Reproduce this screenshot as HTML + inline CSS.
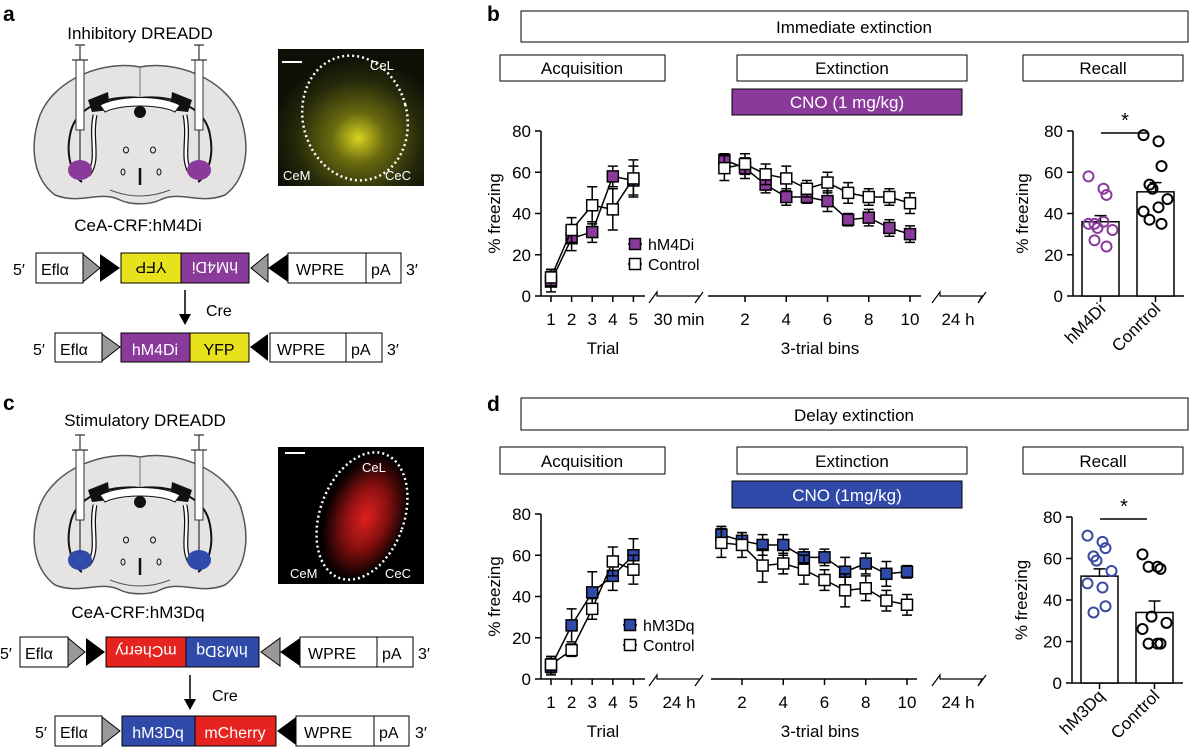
<!DOCTYPE html>
<html><head><meta charset="utf-8"><style>
html,body{margin:0;padding:0;background:#fff}
svg{display:block;font-family:"Liberation Sans",Arial,sans-serif}
</style></head><body>
<svg id="fig" width="1200" height="755" viewBox="0 0 1200 755" xmlns="http://www.w3.org/2000/svg">
<defs>
<radialGradient id="yg" cx="0.55" cy="0.65" r="0.6"><stop offset="0" stop-color="#d8d420"/><stop offset="0.3" stop-color="#6a6a10"/><stop offset="0.7" stop-color="#262a0a"/><stop offset="1" stop-color="#0c1006"/></radialGradient>
<radialGradient id="rg" cx="0.55" cy="0.5" r="0.5"><stop offset="0" stop-color="#e02020"/><stop offset="0.5" stop-color="#8a1010"/><stop offset="1" stop-color="#050000"/></radialGradient>
<g id="brain">
<path d="M140,67 C175,60 225,78 240,115 C252,150 245,180 225,195 C200,205 180,190 160,200 C150,205 130,205 120,200 C100,190 80,205 55,195 C35,180 28,150 40,115 C55,78 105,60 140,67Z" fill="#e6e3e3" stroke="#555" stroke-width="1.5"/>
<path d="M140,68 L140,105" stroke="#777" stroke-width="1"/>
<path d="M70,135 C75,105 110,95 140,98 C170,95 205,105 210,135 C215,160 205,178 198,182" fill="none" stroke="#111" stroke-width="2"/>
<path d="M70,135 C65,160 75,178 82,182" fill="none" stroke="#111" stroke-width="2"/>
<path d="M88,100 L108,92 L110,110 L92,112Z M172,92 L192,100 L188,112 L170,110Z" fill="#111"/>
<path d="M100,105 C120,95 160,95 180,105 L175,112 C160,104 120,104 105,112Z" fill="#fff" stroke="#111"/>
<circle cx="140" cy="112" r="6" fill="#111"/>
<path d="M95,115 C90,140 100,160 88,175 M185,115 C190,140 180,160 192,175" fill="none" stroke="#111" stroke-width="5"/>
<path d="M95,115 C90,140 100,160 88,175 M185,115 C190,140 180,160 192,175" fill="none" stroke="#fff" stroke-width="2.5"/>
<ellipse cx="126" cy="150" rx="2.5" ry="3" fill="none" stroke="#111"/><ellipse cx="153" cy="150" rx="2.5" ry="3" fill="none" stroke="#111"/>
<ellipse cx="123" cy="172" rx="2" ry="3" fill="none" stroke="#111"/><ellipse cx="159" cy="172" rx="2" ry="3" fill="none" stroke="#111"/>
<path d="M140,168 L140,185" stroke="#111" stroke-width="2.5"/>
<path d="M110,190 C130,198 150,198 170,190" fill="none" stroke="#555"/>
<rect x="76" y="60" width="8" height="70" fill="#fff" stroke="#333"/><path d="M80,45 L80,60 M72,60 L88,60 M75,45 L85,45 M80,130 L80,168" stroke="#333" stroke-width="1.2"/>
<rect x="195" y="60" width="8" height="70" fill="#fff" stroke="#333"/><path d="M199,45 L199,60 M191,60 L207,60 M194,45 L204,45 M199,130 L199,168" stroke="#333" stroke-width="1.2"/>
</g>
</defs>

<!-- Panel a -->
<text x="3" y="21" font-size="21" font-weight="bold">a</text>
<text x="140" y="39" font-size="17" text-anchor="middle">Inhibitory DREADD</text>
<g><use href="#brain"/>
<ellipse cx="80" cy="170" rx="12" ry="10" fill="#8a3a9a"/><ellipse cx="199" cy="170" rx="12" ry="10" fill="#8a3a9a"/></g>
<g>
<rect x="278" y="49" width="146" height="137" fill="url(#yg)"/>
<ellipse cx="355" cy="118" rx="52" ry="63" transform="rotate(-15 355 118)" fill="none" stroke="#fff" stroke-width="2.5" stroke-dasharray="2 3"/>
<line x1="282" y1="62" x2="302" y2="62" stroke="#fff" stroke-width="2"/>
<text x="370" y="70" fill="#fff" font-size="13">CeL</text><text x="283" y="180" fill="#fff" font-size="13">CeM</text><text x="385" y="180" fill="#fff" font-size="13">CeC</text></g>
<text x="138" y="231" font-size="17" text-anchor="middle">CeA-CRF:hM4Di</text>

<g font-size="16">
<text x="13" y="275">5′</text>
<rect x="36" y="253" width="47" height="30" fill="#fff" stroke="#000"/><text x="41" y="275">Eflα</text>
<path d="M83,254 L100,268 L83,282Z" fill="#999" stroke="#000"/><path d="M100,254 L120,268 L100,282Z" fill="#000"/>
<rect x="121" y="253" width="60" height="30" fill="#e8e21c" stroke="#000"/><text x="151" y="274" transform="rotate(180 151 268)" text-anchor="middle">YFP</text>
<rect x="181" y="253" width="68" height="30" fill="#8a3a9a" stroke="#000"/><text x="215" y="274" fill="#fff" transform="rotate(180 215 268)" text-anchor="middle">hM4Di</text>
<path d="M268,254 L251,268 L268,282Z" fill="#999" stroke="#000"/><path d="M288,254 L268,268 L288,282Z" fill="#000"/>
<rect x="288" y="253" width="78" height="30" fill="#fff" stroke="#000"/><text x="296" y="275">WPRE</text>
<rect x="366" y="253" width="35" height="30" fill="#fff" stroke="#000"/><text x="371" y="275">pA</text>
<text x="406" y="275">3′</text></g>
<g><line x1="185" y1="290" x2="185" y2="316" stroke="#000" stroke-width="1.5"/><path d="M179,314 L191,314 L185,325Z"/><text x="206" y="316" font-size="16">Cre</text></g>
<g font-size="16">
<text x="33" y="355">5′</text>
<rect x="55" y="333" width="47" height="29" fill="#fff" stroke="#000"/><text x="60" y="355">Eflα</text>
<path d="M102,334 L120,347 L102,361Z" fill="#999" stroke="#000"/>
<rect x="121" y="333" width="69" height="29" fill="#8a3a9a" stroke="#000"/><text x="155" y="355" fill="#fff" text-anchor="middle">hM4Di</text>
<rect x="190" y="333" width="59" height="29" fill="#e8e21c" stroke="#000"/><text x="219" y="355" text-anchor="middle">YFP</text>
<path d="M268,334 L250,347 L268,361Z" fill="#000"/>
<rect x="270" y="333" width="76" height="29" fill="#fff" stroke="#000"/><text x="277" y="355">WPRE</text>
<rect x="346" y="333" width="36" height="29" fill="#fff" stroke="#000"/><text x="351" y="355">pA</text>
<text x="387" y="355">3′</text></g>

<!-- Panel c -->
<text x="3" y="410" font-size="21" font-weight="bold">c</text>
<text x="145" y="426" font-size="17" text-anchor="middle">Stimulatory DREADD</text>
<g transform="translate(0,390)"><use href="#brain"/>
<ellipse cx="80" cy="170" rx="12" ry="10" fill="#2f4aa8"/><ellipse cx="199" cy="170" rx="12" ry="10" fill="#2f4aa8"/></g>
<g>
<rect x="278" y="447" width="146" height="137" fill="#000"/>
<ellipse cx="362" cy="516" rx="40" ry="64" transform="rotate(20 362 516)" fill="url(#rg)"/>
<ellipse cx="362" cy="516" rx="42" ry="66" transform="rotate(20 362 516)" fill="none" stroke="#fff" stroke-width="2.5" stroke-dasharray="2 3"/>
<line x1="285" y1="453" x2="305" y2="453" stroke="#fff" stroke-width="2"/>
<text x="362" y="472" fill="#fff" font-size="13">CeL</text><text x="290" y="578" fill="#fff" font-size="13">CeM</text><text x="385" y="578" fill="#fff" font-size="13">CeC</text></g>
<text x="138" y="618" font-size="17" text-anchor="middle">CeA-CRF:hM3Dq</text>

<g font-size="16">
<text x="0" y="659">5′</text>
<rect x="20" y="637" width="48" height="30" fill="#fff" stroke="#000"/><text x="25" y="659">Eflα</text>
<path d="M68,638 L85,652 L68,666Z" fill="#999" stroke="#000"/><path d="M86,638 L105,652 L86,666Z" fill="#000"/>
<rect x="106" y="637" width="80" height="30" fill="#e5231f" stroke="#000"/><text x="146" y="658" fill="#fff" transform="rotate(180 146 652)" text-anchor="middle">mCherry</text>
<rect x="186" y="637" width="73" height="30" fill="#2f4aa8" stroke="#000"/><text x="222" y="658" fill="#fff" transform="rotate(180 222 652)" text-anchor="middle">hM3Dq</text>
<path d="M280,638 L261,652 L280,666Z" fill="#999" stroke="#000"/><path d="M300,638 L280,652 L300,666Z" fill="#000"/>
<rect x="300" y="637" width="77" height="30" fill="#fff" stroke="#000"/><text x="308" y="659">WPRE</text>
<rect x="377" y="637" width="36" height="30" fill="#fff" stroke="#000"/><text x="382" y="659">pA</text>
<text x="418" y="659">3′</text></g>
<g><line x1="190" y1="675" x2="190" y2="701" stroke="#000" stroke-width="1.5"/><path d="M184,699 L196,699 L190,710Z"/><text x="212" y="701" font-size="16">Cre</text></g>
<g font-size="16">
<text x="35" y="738">5′</text>
<rect x="55" y="716" width="47" height="30" fill="#fff" stroke="#000"/><text x="60" y="738">Eflα</text>
<path d="M102,717 L120,731 L102,745Z" fill="#999" stroke="#000"/>
<rect x="122" y="716" width="73" height="30" fill="#2f4aa8" stroke="#000"/><text x="158" y="738" fill="#fff" text-anchor="middle">hM3Dq</text>
<rect x="195" y="716" width="81" height="30" fill="#e5231f" stroke="#000"/><text x="235" y="738" fill="#fff" text-anchor="middle">mCherry</text>
<path d="M296,717 L277,731 L296,745Z" fill="#000"/>
<rect x="296" y="716" width="78" height="30" fill="#fff" stroke="#000"/><text x="304" y="738">WPRE</text>
<rect x="374" y="716" width="35" height="30" fill="#fff" stroke="#000"/><text x="379" y="738">pA</text>
<text x="415" y="738">3′</text></g>

<!-- Panel b/d headers -->
<g font-size="17">
<text x="487" y="21" font-size="21" font-weight="bold">b</text>
<rect x="521" y="11" width="667" height="31" fill="#fff" stroke="#000"/><text x="854" y="33" text-anchor="middle">Immediate extinction</text>
<rect x="500" y="55" width="165" height="26" fill="#fff" stroke="#000"/><text x="582" y="74" text-anchor="middle">Acquisition</text>
<rect x="737" y="55" width="230" height="26" fill="#fff" stroke="#000"/><text x="852" y="74" text-anchor="middle">Extinction</text>
<rect x="1023" y="55" width="160" height="26" fill="#fff" stroke="#000"/><text x="1103" y="74" text-anchor="middle">Recall</text>
<rect x="732" y="89" width="230" height="26" fill="#8a3a9a" stroke="#000"/><text x="847" y="108" text-anchor="middle" fill="#fff">CNO (1 mg/kg)</text>

<text x="487" y="411" font-size="21" font-weight="bold">d</text>
<rect x="521" y="398" width="667" height="32" fill="#fff" stroke="#000"/><text x="854" y="421" text-anchor="middle">Delay extinction</text>
<rect x="500" y="447" width="165" height="27" fill="#fff" stroke="#000"/><text x="582" y="467" text-anchor="middle">Acquisition</text>
<rect x="737" y="447" width="230" height="27" fill="#fff" stroke="#000"/><text x="852" y="467" text-anchor="middle">Extinction</text>
<rect x="1023" y="447" width="160" height="27" fill="#fff" stroke="#000"/><text x="1103" y="467" text-anchor="middle">Recall</text>
<rect x="732" y="481" width="230" height="27" fill="#2f4aa8" stroke="#000"/><text x="847" y="501" text-anchor="middle" fill="#fff">CNO (1mg/kg)</text>
</g>
<g id="charts"></g>
</svg>
<script>
// Panel b data
const bTrials = [1,2,3,4,5];
const bAcqDrug = [7,28,31,58,56];
const bAcqDrugErr = [5,6,5,5,7];
const bAcqCtl = [9,32,44,42,57];
const bAcqCtlErr = [4,6,9,10,9];
const bBins = [1,2,3,4,5,6,7,8,9,10];
const bExtDrug = [66,62,54,48,48,46,37,38,33,30];
const bExtDrugErr = [3,5,4,4,3,5,3,4,4,4];
const bExtCtl = [62,64,59,57,52,55,50,48,48,45];
const bExtCtlErr = [6,5,5,6,4,5,5,4,4,5];
const bBarMeans = [36,50.5];
const bBarSem = [3,4.5];
const bDrugPts = [58,52,49,35,33,32,35,36,24,27];
const bCtlPts = [78,75,63,54,52,47,41,43,35,37];
// Panel d data
const dAcqDrug = [6,26,42,50,60];
const dAcqDrugErr = [4,8,10,7,8];
const dAcqCtl = [7,14,34,57,53];
const dAcqCtlErr = [4,3,5,7,7];
const dExtDrug = [70,67,65,65,59,59,52,56,51,52];
const dExtDrugErr = [4,4,5,5,4,4,7,5,6,3];
const dExtCtl = [66,65,55,56,53,48,43,44,38,36];
const dExtCtlErr = [7,6,8,5,7,5,8,6,5,5];
const dBarMeans = [51.5,34];
const dBarSem = [3.5,5.5];
const dDrugPts = [71,68,65,61,59,54,48,46,37,34];
const dCtlPts = [62,56,55,56,32,29,26,19,19,19];
const yTicks = [0,20,40,60,80];
const extTicks = [2,4,6,8,10];

const NS='http://www.w3.org/2000/svg';
const root=document.getElementById('charts');
function mk(tag,attrs,parent){const e=document.createElementNS(NS,tag);for(const k in attrs)e.setAttribute(k,attrs[k]);(parent||root).appendChild(e);return e;}
function txt(x,y,s,size,anchor,parent,extra){const t=mk('text',Object.assign({x:x,y:y,'font-size':size,'text-anchor':anchor||'middle'},extra||{}),parent);t.textContent=s;return t;}

function drawPanel(P){
  const g=mk('g',{});
  
  
  const y=v=>P.y0-(v/80)*(P.y0-P.y80);
  const xa=t=>551+(t-1)*20.6;
  const xe=b=>P.e2+(b-2)*(P.e10-P.e2)/8;
  mk('line',{x1:541,y1:P.y80,x2:541,y2:P.y0,stroke:'#000','stroke-width':1.5},g);
  mk('line',{x1:541,y1:P.y0,x2:645,y2:P.y0,stroke:'#000','stroke-width':1.5},g);
  mk('line',{x1:P.ext0,y1:P.y0,x2:P.ext1,y2:P.y0,stroke:'#000','stroke-width':1.5},g);
  mk('path',{d:`M649,${P.y0+7} L657,${P.y0-4} L657,${P.y0} L700,${P.y0} L695,${P.y0+7} L703,${P.y0-4}`,fill:'none',stroke:'#000','stroke-width':1.2},g);
  mk('path',{d:`M932,${P.y0+7} L940,${P.y0-4} L940,${P.y0} L982,${P.y0} L978,${P.y0+7} L986,${P.y0-4}`,fill:'none',stroke:'#000','stroke-width':1.2},g);
  yTicks.forEach(v=>{mk('line',{x1:535,y1:y(v),x2:541,y2:y(v),stroke:'#000','stroke-width':1.5},g);txt(531,y(v)+6,String(v),17,'end',g);});
  bTrials.forEach(t=>{mk('line',{x1:xa(t),y1:P.y0,x2:xa(t),y2:P.y0+6,stroke:'#000','stroke-width':1.5},g);txt(xa(t),P.y0+29,String(t),17,'middle',g);});
  extTicks.forEach(b=>{mk('line',{x1:xe(b),y1:P.y0,x2:xe(b),y2:P.y0+6,stroke:'#000','stroke-width':1.5},g);txt(xe(b),P.y0+29,String(b),17,'middle',g);});
  txt(679,P.y0+29,P.gap,17,'middle',g);
  txt(958,P.y0+29,'24 h',17,'middle',g);
  txt(603,P.y0+58,'Trial',17,'middle',g);
  txt(820,P.y0+58,'3-trial bins',17,'middle',g);
  txt(0,0,'% freezing',17,'middle',g,{transform:`translate(500,${(P.y0+P.y80)/2}) rotate(-90)`});
  function series(xs,xf,vals,errs,fill,nm){
    const sg=mk('g',{},g);
    
    
    mk('polyline',{points:xs.map((t,i)=>xf(t)+','+y(vals[i])).join(' '),fill:'none',stroke:'#000','stroke-width':1.5},sg);
    xs.forEach((t,i)=>{const X=xf(t),Y1=y(vals[i]+errs[i]),Y2=y(vals[i]-errs[i]);
      mk('path',{d:`M${X},${Y1} L${X},${Y2} M${X-5},${Y1} L${X+5},${Y1} M${X-5},${Y2} L${X+5},${Y2}`,stroke:'#000','stroke-width':1.5},sg);
      const r=mk('rect',{x:X-5.5,y:y(vals[i])-5.5,width:11,height:11,fill:fill,stroke:'#000','stroke-width':1.5},sg);
      
      
    });
  }
  series(bTrials,xa,P.acqD,P.acqDE,P.col,P.drug+'-acquisition');
  series(bTrials,xa,P.acqC,P.acqCE,'#fff','control-acquisition');
  series(bBins,xe,P.extD,P.extDE,P.col,P.drug+'-extinction');
  series(bBins,xe,P.extC,P.extCE,'#fff','control-extinction');
  const lg=mk('g',{},g);
  
  
  const ly=P.y0-P.legOff;
  [[P.col,P.drug],['#fff','Control']].forEach((e,i)=>{
    mk('line',{x1:P.lx-7,y1:ly+i*20,x2:P.lx+7,y2:ly+i*20,stroke:'#000','stroke-width':1.5},lg);
    mk('rect',{x:P.lx-5.5,y:ly+i*20-5.5,width:11,height:11,fill:e[0],stroke:'#000','stroke-width':1.5},lg);
    txt(P.lx+13,ly+i*20+6,e[1],16,'start',lg);
  });
  const bg=mk('g',{},g);
  
  
  const yb=v=>P.by0-(v/80)*(P.by0-P.by80);
  mk('line',{x1:P.bx,y1:P.by80,x2:P.bx,y2:P.by0,stroke:'#000','stroke-width':1.5},bg);
  mk('line',{x1:P.bx,y1:P.by0,x2:P.bx+111,y2:P.by0,stroke:'#000','stroke-width':1.5},bg);
  yTicks.forEach(v=>{mk('line',{x1:P.bx-6,y1:yb(v),x2:P.bx,y2:yb(v),stroke:'#000','stroke-width':1.5},bg);txt(P.bx-10,yb(v)+6,String(v),17,'end',bg);});
  txt(0,0,'% freezing',17,'middle',bg,{transform:`translate(${P.bx-45},${(P.by0+P.by80)/2}) rotate(-90)`});
  const cats=[P.drug,'Conrtrol'];
  const pts=[P.dPts,P.cPts];
  const cols=[P.ptCol,'#000'];
  [0,1].forEach(i=>{
    const left=P.bx+9+i*55,cx=left+18.5;
    const r=mk('rect',{x:left,y:yb(P.means[i]),width:37,height:P.by0-yb(P.means[i]),fill:'#fff',stroke:'#000','stroke-width':1.5},bg);
    
    
    const ye=yb(P.means[i]+P.sem[i]);
    mk('path',{d:`M${cx},${yb(P.means[i])} L${cx},${ye} M${cx-6},${ye} L${cx+6},${ye}`,stroke:'#000','stroke-width':1.5},bg);
    mk('line',{x1:cx,y1:P.by0,x2:cx,y2:P.by0+6,stroke:'#000','stroke-width':1.5},bg);
    txt(0,0,cats[i],17,'end',bg,{transform:`translate(${cx+6},${P.by0+14}) rotate(-45)`});
    pts[i].forEach((v,j)=>{
      const c=mk('circle',{cx:cx+((j%3)-1)*9+(j%2?3:-3),cy:yb(v),r:5,fill:'none',stroke:cols[i],'stroke-width':2},bg);
      
      
    });
  });
  mk('line',{x1:P.bx+28,y1:P.by80+2,x2:P.bx+75,y2:P.by80+2,stroke:'#000','stroke-width':1.5},bg);
  txt(P.bx+52,P.by80-4,'*',20,'middle',bg);
}
drawPanel({name:'panel-b',drug:'hM4Di',col:'#8a3a9a',ptCol:'#8a3a9a',y0:296,y80:131,e2:745,e10:910,ext0:708,ext1:921,gap:'30 min',lx:635,legOff:52,
  acqD:bAcqDrug,acqDE:bAcqDrugErr,acqC:bAcqCtl,acqCE:bAcqCtlErr,extD:bExtDrug,extDE:bExtDrugErr,extC:bExtCtl,extCE:bExtCtlErr,
  bx:1073,by0:296,by80:131,means:bBarMeans,sem:bBarSem,dPts:bDrugPts,cPts:bCtlPts});
drawPanel({name:'panel-d',drug:'hM3Dq',col:'#2f4aa8',ptCol:'#3a4aa0',y0:679,y80:514,e2:742,e10:907,ext0:711,ext1:917,gap:'24 h',lx:630,legOff:54,
  acqD:dAcqDrug,acqDE:dAcqDrugErr,acqC:dAcqCtl,acqCE:dAcqCtlErr,extD:dExtDrug,extDE:dExtDrugErr,extC:dExtCtl,extCE:dExtCtlErr,
  bx:1072,by0:683,by80:517,means:dBarMeans,sem:dBarSem,dPts:dDrugPts,cPts:dCtlPts});
</script>
</body></html>
